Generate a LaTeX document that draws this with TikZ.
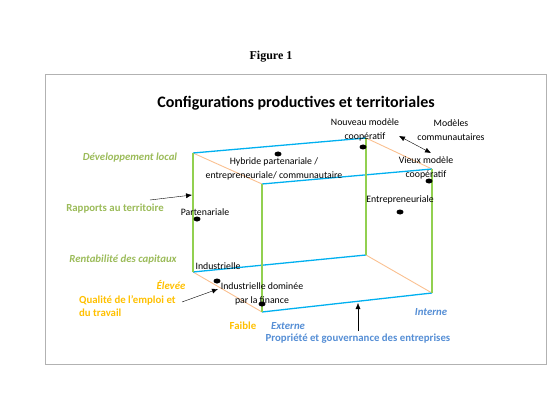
\documentclass[tikz,border=0pt]{standalone}
\usepackage{fontspec}
\setmainfont{Carlito}
\newfontfamily\figfont{Liberation Serif}
\usetikzlibrary{arrows.meta,positioning,shapes.geometric}
\definecolor{lgreen}{HTML}{92D050}
\definecolor{lblue}{HTML}{00B0F0}
\definecolor{lorange}{HTML}{FAC090}
\definecolor{tgreen}{HTML}{9BBB59}
\definecolor{tyellow}{HTML}{FFC000}
\definecolor{tblue}{HTML}{558ED5}

\begin{document}
\begin{tikzpicture}[x=1pt,y=-1pt,>={Latex[length=6pt,width=5pt]},
   font=\fontsize{9.8}{13.5}\selectfont,
   lbl/.style={inner sep=0pt,align=center},
   dot/.style={ellipse,fill=black,minimum width=7pt,minimum height=5pt,inner sep=0pt},
   gedge/.style={lgreen,line width=1.3pt},
   bedge/.style={lblue,line width=1.3pt},
   oedge/.style={lorange,line width=0.9pt},
   gtxt/.style={inner sep=0pt,text=tgreen,font=\fontsize{10.8}{13.5}\selectfont\bfseries},
   ytxt/.style={inner sep=0pt,text=tyellow,font=\fontsize{10.8}{13.5}\selectfont\bfseries},
   btxt/.style={inner sep=0pt,text=tblue,font=\fontsize{10.8}{13.5}\selectfont\bfseries}]
  \useasboundingbox (0,0) rectangle (547,404);
  \draw[gray!60,line width=1pt] (45,75) rectangle (546,364);
  \node[font=\figfont\fontsize{12}{14}\selectfont\bfseries] (fig) at (271,57) {Figure 1};
  \node[font=\fontsize{16}{19}\selectfont\bfseries] (title) at (296,103)
     {Configurations productives et territoriales};

  % cube corners
  \coordinate (tbl) at (193,153);
  \coordinate (tbr) at (366,138);
  \coordinate (tfl) at (262,184);
  \coordinate (tfr) at (432,169);
  \coordinate (bbl) at (193,272);
  \coordinate (bbr) at (366,255);
  \coordinate (bfl) at (262,312);
  \coordinate (bfr) at (432,293);

  \draw[oedge] (tbl)--(tfl) (tbr)--(tfr) (bbl)--(bfl) (bbr)--(bfr);
  \draw[bedge] (tbl)--(tbr) (tfl)--(tfr) (bbl)--(bbr) (bfl)--(bfr);
  \draw[gedge] (tbl)--(bbl) (tfl)--(bfl) (tbr)--(bbr) (tfr)--(bfr);

  % configurations
  \node[lbl] (hyb) at (274,169) {Hybride partenariale /\\entrepreneuriale/ communautaire};
  \node[dot] (dhyb) at (278,154) {};
  \node[lbl] (nouv) at (365,130) {Nouveau mod\`ele\\coop\'eratif};
  \node[dot] (dnouv) at (363,147) {};
  \node[lbl] (comm) at (451,130) {Mod\`eles\\communautaires};
  \node[lbl] (vieux) at (426,168) {Vieux mod\`ele\\coop\'eratif};
  \node[dot] (dvieux) at (429,181) {};
  \node[lbl] (entr) at (400,200) {Entrepreneuriale};
  \node[dot] (dentr) at (400,212) {};
  \node[lbl] (part) at (205,212) {Partenariale};
  \node[dot] (dpart) at (197,219) {};
  \node[lbl] (ind) at (218,266) {Industrielle};
  \node[dot] (dind) at (217,281) {};
  \node[lbl] (indf) at (262,294) {Industrielle domin\'ee\\par la finance};
  \node[dot] (dindf) at (262,304) {};

  % axes
  \node[gtxt,font=\fontsize{10.8}{13.5}\selectfont\bfseries\itshape] (dev) at (130,158) {D\'eveloppement local};
  \node[gtxt] (rap) at (115,209) {Rapports au territoire};
  \node[gtxt,font=\fontsize{10.8}{13.5}\selectfont\bfseries\itshape] (rent) at (123,260) {Rentabilit\'e des capitaux};
  \node[ytxt,font=\fontsize{10.8}{13.5}\selectfont\bfseries\itshape] (elev) at (171,285) {\'Elev\'ee};
  \node[ytxt,align=left,anchor=west] (qual) at (79,306) {Qualit\'e de l’emploi et\\du travail};
  \node[ytxt] (faib) at (243,326) {Faible};
  \node[btxt,font=\fontsize{10.8}{13.5}\selectfont\bfseries\itshape] (ext) at (288,326) {Externe};
  \node[btxt,font=\fontsize{10.8}{13.5}\selectfont\bfseries\itshape] (int) at (431,312) {Interne};
  \node[btxt] (prop) at (358,339) {Propri\'et\'e et gouvernance des entreprises};

  % arrows
  \coordinate (rapS) at (150,200);
  \coordinate (rapE) at (192,195);
  \coordinate (qualS) at (182,302);
  \coordinate (qualE) at (218,289);
  \coordinate (propS) at (358,331);
  \coordinate (propE) at (358,303);
  \coordinate (coopA) at (399,136);
  \coordinate (coopB) at (431,153);
  \draw[->] (rapS)--(rapE);
  \draw[->] (qualS)--(qualE);
  \draw[->] (propS)--(propE);
  \draw[<->] (coopA)--(coopB);
\end{tikzpicture}
\end{document}
